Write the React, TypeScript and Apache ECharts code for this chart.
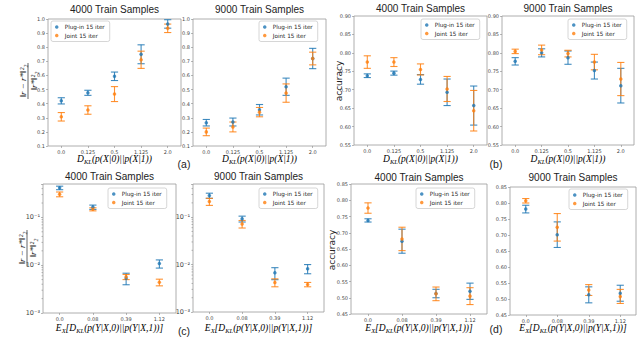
import React, { useEffect, useRef } from 'react';
import * as echarts from 'echarts';

const BLUE = '#1f77b4';
const ORANGE = '#ff7f0e';
const PLUG = 'Plug-in 15 iter';
const JOINT = 'Joint 15 iter';

const klCats = ['0.0', '0.125', '0.5', '1.125', '2.0'];
const ekCats = ['0.0', '0.08', '0.39', '1.12'];

// (a) relative error vs KL, 4000 / 9000
const a4000PlugMean = [0.42, 0.477, 0.594, 0.75, 0.965];
const a4000PlugErr = [0.022, 0.018, 0.03, 0.067, 0.03];
const a4000JointMean = [0.307, 0.355, 0.468, 0.711, 0.934];
const a4000JointErr = [0.03, 0.03, 0.053, 0.061, 0.03];
const a9000PlugMean = [0.265, 0.27, 0.357, 0.52, 0.72];
const a9000PlugErr = [0.023, 0.028, 0.037, 0.061, 0.072];
const a9000JointMean = [0.2, 0.235, 0.34, 0.475, 0.72];
const a9000JointErr = [0.027, 0.035, 0.033, 0.065, 0.045];

// (b) accuracy vs KL
const b4000PlugMean = [0.738, 0.745, 0.728, 0.693, 0.657];
const b4000PlugErr = [0.005, 0.0055, 0.013, 0.036, 0.053];
const b4000JointMean = [0.775, 0.775, 0.755, 0.702, 0.643];
const b4000JointErr = [0.017, 0.012, 0.015, 0.034, 0.055];
const b9000PlugMean = [0.777, 0.8, 0.787, 0.752, 0.711];
const b9000PlugErr = [0.01, 0.011, 0.018, 0.023, 0.047];
const b9000JointMean = [0.804, 0.808, 0.798, 0.775, 0.729];
const b9000JointErr = [0.006, 0.013, 0.009, 0.021, 0.045];

// (c) relative error vs expected KL (log scale)
const c4000PlugMean = [0.415, 0.164, 0.00535, 0.0108];
const c4000PlugErr = [0.035, 0.017, 0.00145, 0.0021];
const c4000JointMean = [0.305, 0.148, 0.0057, 0.0044];
const c4000JointErr = [0.035, 0.011, 0.0007, 0.0007];
const c9000PlugMean = [0.285, 0.092, 0.0067, 0.0082];
const c9000PlugErr = [0.035, 0.013, 0.0019, 0.0018];
const c9000JointMean = [0.213, 0.072, 0.0042, 0.0038];
const c9000JointErr = [0.036, 0.013, 0.0008, 0.0004];

// (d) accuracy vs expected KL
const d4000PlugMean = [0.738, 0.674, 0.513, 0.52];
const d4000PlugErr = [0.005, 0.037, 0.013, 0.025];
const d4000JointMean = [0.776, 0.681, 0.512, 0.505];
const d4000JointErr = [0.016, 0.036, 0.021, 0.026];
const d9000PlugMean = [0.781, 0.701, 0.513, 0.518];
const d9000PlugErr = [0.012, 0.04, 0.025, 0.025];
const d9000JointMean = [0.807, 0.724, 0.528, 0.508];
const d9000JointErr = [0.007, 0.043, 0.017, 0.022];

const logMinorTicks = [0.002, 0.003, 0.004, 0.005, 0.006, 0.007, 0.008, 0.009, 0.02, 0.03, 0.04, 0.05, 0.06, 0.07, 0.08, 0.09, 0.2, 0.3, 0.4];

const titles = ['4000 Train Samples', '9000 Train Samples', '4000 Train Samples', '9000 Train Samples', '4000 Train Samples', '9000 Train Samples', '4000 Train Samples', '9000 Train Samples'];

const layout = [
  { left: 48, top: 19, width: 133, height: 127 },
  { left: 193, top: 19, width: 133, height: 127 },
  { left: 354, top: 16, width: 133, height: 129 },
  { left: 502, top: 16, width: 132, height: 129 },
  { left: 43, top: 184, width: 133, height: 129 },
  { left: 193, top: 184, width: 131, height: 128 },
  { left: 351, top: 184, width: 136, height: 130 },
  { left: 510, top: 187, width: 126, height: 128 },
];
const legendPos = [
  { left: 51, top: 21 },
  { left: 259, top: 21 },
  { left: 421, top: 19 },
  { left: 568, top: 19 },
  { left: 108, top: 188 },
  { left: 259, top: 188 },
  { left: 416, top: 188 },
  { left: 569, top: 189 },
];
const titleY = [9, 9, 8, 8, 176, 176, 177, 177];

type Panel = {
  cats: string[];
  plug: number[]; plugErr: number[];
  joint: number[]; jointErr: number[];
  y: any;
};

const linY = (min: number, max: number, interval: number, dec: number) => ({
  type: 'value', min, max, interval,
  axisLabel: { formatter: (v: number) => v.toFixed(dec), fontSize: 5 },
});
const supMap: Record<string, string> = { '-': '⁻', '0': '⁰', '1': '¹', '2': '²', '3': '³', '4': '⁴', '5': '⁵' };
const logY = () => ({
  type: 'log', logBase: 10, min: 0.001, max: 0.5,
  axisLabel: {
    fontSize: 6.5,
    formatter: (v: number) => {
      const e = Math.log10(v);
      const r = Math.round(e);
      if (Math.abs(e - r) > 1e-6) return '';
      return '10' + String(r).split('').map((c) => supMap[c] || c).join('');
    },
  },
});

const panels: Panel[] = [
  { cats: klCats, plug: a4000PlugMean, plugErr: a4000PlugErr, joint: a4000JointMean, jointErr: a4000JointErr, y: linY(0.1, 1.0, 0.1, 1) },
  { cats: klCats, plug: a9000PlugMean, plugErr: a9000PlugErr, joint: a9000JointMean, jointErr: a9000JointErr, y: linY(0.1, 1.0, 0.1, 1) },
  { cats: klCats, plug: b4000PlugMean, plugErr: b4000PlugErr, joint: b4000JointMean, jointErr: b4000JointErr, y: linY(0.55, 0.9, 0.05, 2) },
  { cats: klCats, plug: b9000PlugMean, plugErr: b9000PlugErr, joint: b9000JointMean, jointErr: b9000JointErr, y: linY(0.55, 0.9, 0.05, 2) },
  { cats: ekCats, plug: c4000PlugMean, plugErr: c4000PlugErr, joint: c4000JointMean, jointErr: c4000JointErr, y: logY() },
  { cats: ekCats, plug: c9000PlugMean, plugErr: c9000PlugErr, joint: c9000JointMean, jointErr: c9000JointErr, y: logY() },
  { cats: ekCats, plug: d4000PlugMean, plugErr: d4000PlugErr, joint: d4000JointMean, jointErr: d4000JointErr, y: linY(0.45, 0.85, 0.05, 2) },
  { cats: ekCats, plug: d9000PlugMean, plugErr: d9000PlugErr, joint: d9000JointMean, jointErr: d9000JointErr, y: linY(0.45, 0.85, 0.05, 2) },
];

const errRender = (color: string) => (params: any, api: any) => {
  const x = api.value(0);
  const lo = api.coord([x, api.value(1)]);
  const hi = api.coord([x, api.value(2)]);
  const cw = 3.6;
  const style = { stroke: color, lineWidth: 1.1, opacity: 0.85 };
  return {
    type: 'group',
    children: [
      { type: 'line', shape: { x1: lo[0], y1: lo[1], x2: hi[0], y2: hi[1] }, style },
      { type: 'line', shape: { x1: lo[0] - cw, y1: lo[1], x2: lo[0] + cw, y2: lo[1] }, style },
      { type: 'line', shape: { x1: hi[0] - cw, y1: hi[1], x2: hi[0] + cw, y2: hi[1] }, style },
    ],
  };
};

const minorRender = (params: any, api: any) => {
  const p = api.coord([0, api.value(1)]);
  const x0 = params.coordSys.x;
  return { type: 'line', shape: { x1: x0 - 1.5, y1: p[1], x2: x0, y2: p[1] }, style: { stroke: '#888', lineWidth: 0.6 } };
};

const serifI = { fontFamily: 'Liberation Serif', fontStyle: 'italic', fontSize: 9.5, color: '#222', lineHeight: 10 };
const labelRich = {
  i: serifI,
  s: { ...serifI, fontSize: 6.5, lineHeight: 6, padding: [4, 0, 0, 0] },
};
const klLabel = '{i|D}{s|KL}{i|(p(X|0)||p(X|1))}';
const ekLabel = '{i|E}{s|X}{i|[D}{s|KL}{i|(p(Y|X,0)||p(Y|X,1))]}';

const fraction = (x: number, y: number) => ({
  type: 'group', x, y, rotation: Math.PI / 2,
  children: [
    { type: 'text', x: 0, y: -5.5, style: { text: '‖r − r*‖²₂', fontFamily: 'Liberation Serif', fontStyle: 'italic', fontSize: 9, fill: '#222', align: 'center', verticalAlign: 'middle' } },
    { type: 'line', shape: { x1: -18, y1: 0, x2: 18, y2: 0 }, style: { stroke: '#222', lineWidth: 0.7 } },
    { type: 'text', x: 0, y: 5.5, style: { text: '‖r*‖²₂', fontFamily: 'Liberation Serif', fontStyle: 'italic', fontSize: 9, fill: '#222', align: 'center', verticalAlign: 'middle' } },
  ],
});

export default function App() {
  const ref = useRef<HTMLDivElement>(null);
  useEffect(() => {
    if (!ref.current) return;
    const chart = echarts.init(ref.current, undefined, { renderer: 'svg' });

    const grid = layout.map((g) => ({ ...g, show: true, borderColor: '#999', borderWidth: 0.8, backgroundColor: 'transparent' }));
    const xAxis = panels.map((p, i) => ({
      type: 'category', gridIndex: i, data: p.cats, boundaryGap: true,
      axisLine: { show: false },
      axisTick: { show: true, alignWithLabel: true, length: 2, lineStyle: { color: '#888', width: 0.6 } },
      axisLabel: { fontSize: 5, color: '#444', margin: 3, fontFamily: 'DejaVu Sans' },
      splitLine: { show: false },
    }));
    const yAxis = panels.map((p, i) => ({
      ...p.y,
      gridIndex: i,
      axisLine: { show: false },
      axisTick: { show: true, length: 2, lineStyle: { color: '#888', width: 0.6 } },
      axisLabel: { ...p.y.axisLabel, color: '#444', margin: 3, fontFamily: 'DejaVu Sans' },
      splitLine: { show: false },
    }));

    const series: any[] = [];
    panels.forEach((p, i) => {
      const pair = (mean: number[], err: number[], color: string, name: string) => {
        series.push({
          type: 'custom', name: name + '-err-' + i, xAxisIndex: i, yAxisIndex: i,
          data: mean.map((m, j) => [j, m - err[j], m + err[j]]),
          renderItem: errRender(color), encode: { x: 0, y: [1, 2] }, silent: true,
        });
        series.push({
          type: 'scatter', name, xAxisIndex: i, yAxisIndex: i,
          data: mean.map((m, j) => [j, m]), symbol: 'circle', symbolSize: 3.5,
          itemStyle: { color }, silent: true,
        });
      };
      pair(p.plug, p.plugErr, BLUE, PLUG);
      pair(p.joint, p.jointErr, ORANGE, JOINT);
      if (p.y.type === 'log') {
        series.push({
          type: 'custom', name: 'minor-' + i, xAxisIndex: i, yAxisIndex: i,
          data: logMinorTicks.map((v) => [0, v]), renderItem: minorRender, encode: { x: 0, y: 1 }, silent: true,
        });
      }
    });

    const legend = legendPos.map((pos) => ({
      ...pos,
      orient: 'vertical',
      data: [
        { name: PLUG, icon: 'circle', itemStyle: { color: BLUE } },
        { name: JOINT, icon: 'circle', itemStyle: { color: ORANGE } },
      ],
      itemWidth: 8, itemHeight: 3.5, itemGap: 2.5,
      padding: [3, 5, 3, 4],
      borderColor: '#ccc', borderWidth: 0.8, borderRadius: 2,
      backgroundColor: 'rgba(255,255,255,0.8)',
      textStyle: { fontSize: 5.7, fontFamily: 'DejaVu Sans', color: '#222', padding: [0, 0, 0, -1] },
      selectedMode: false,
    }));

    const graphic: any[] = [];
    layout.forEach((g, i) => {
      const cx = g.left + g.width / 2;
      graphic.push({ type: 'text', x: cx, y: titleY[i], style: { text: titles[i], fontFamily: 'Liberation Sans', fontSize: 10, fill: '#222', align: 'center', verticalAlign: 'middle' } });
      const top = i < 4;
      graphic.push({ type: 'text', x: cx, y: top ? 159 : 328, style: { text: top ? klLabel : ekLabel, rich: labelRich, align: 'center', verticalAlign: 'middle' } });
    });
    [['(a)', 184, 164], ['(b)', 496, 164], ['(c)', 184, 331], ['(d)', 496, 329]].forEach(([t, x, y]) => {
      graphic.push({ type: 'text', x, y, style: { text: t, fontFamily: 'Liberation Sans', fontSize: 10.5, fill: '#222', align: 'center', verticalAlign: 'middle' } });
    });
    graphic.push(fraction(28, 81));
    graphic.push(fraction(27, 248));
    graphic.push({ type: 'text', x: 339, y: 81, rotation: Math.PI / 2, style: { text: 'accuracy', fontFamily: 'DejaVu Sans', fontSize: 9, fill: '#222', align: 'center', verticalAlign: 'middle' } });
    graphic.push({ type: 'text', x: 332, y: 250, rotation: Math.PI / 2, style: { text: 'accuracy', fontFamily: 'DejaVu Sans', fontSize: 9, fill: '#222', align: 'center', verticalAlign: 'middle' } });

    chart.setOption({
      animation: false,
      backgroundColor: '#fff',
      grid, xAxis, yAxis, series, legend, graphic,
    });
    return () => chart.dispose();
  }, []);
  return <div ref={ref} style={{ position: 'fixed', left: 0, top: 0, width: 644, height: 341 }} />;
}
